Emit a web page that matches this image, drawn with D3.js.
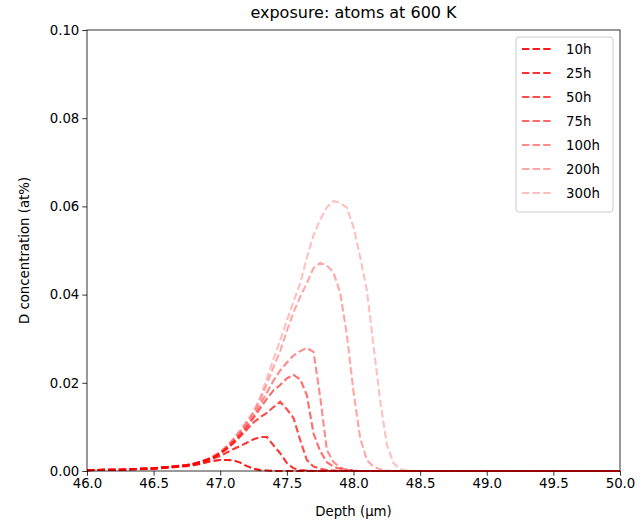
<!DOCTYPE html>
<html>
<head>
<meta charset="utf-8">
<script src="https://cdn.jsdelivr.net/npm/d3@7"></script>
<style>
  body { margin: 0; background: #fff; }
  text { font-family: "DejaVu Sans", sans-serif; fill: #000; }
</style>
</head>
<body>
<div id="chart"></div>
<script>
// depth grid (µm)
var depth = [46.0, 46.25, 46.5, 46.75, 46.8, 46.85, 46.9, 46.95,
             47.0, 47.05, 47.1, 47.15, 47.2, 47.25, 47.3, 47.35,
             47.4, 47.45, 47.5, 47.55, 47.6, 47.65, 47.7, 47.75,
             47.8, 47.85, 47.9, 47.95, 48.0, 48.05, 48.1, 48.15,
             48.2, 48.25, 48.3, 48.35, 48.4, 48.5, 49.0, 50.0];

var labels = ['10h', '25h', '50h', '75h', '100h', '200h', '300h'];
var alphas = [0.9, 0.8, 0.7, 0.58, 0.46, 0.35, 0.25];

var c10h = [0.0002, 0.0003, 0.0005, 0.0011, 0.0013, 0.0016, 0.0020, 0.0023,
            0.0025, 0.0025, 0.0024, 0.0019, 0.0011, 0.0005, 0.0002, 0.0001,
            0, 0, 0, 0, 0, 0, 0, 0,
            0, 0, 0, 0, 0, 0, 0, 0,
            0, 0, 0, 0, 0, 0, 0, 0];
var c25h = [0.0002, 0.0003, 0.0006, 0.0013, 0.0016, 0.0020, 0.0024, 0.0029,
            0.0034, 0.0042, 0.0050, 0.0057, 0.0064, 0.0072, 0.0077, 0.0077,
            0.0058, 0.0040, 0.0018, 0.0006, 0.0002, 0.0001, 0, 0,
            0, 0, 0, 0, 0, 0, 0, 0,
            0, 0, 0, 0, 0, 0, 0, 0];
var c50h = [0.0002, 0.0003, 0.0006, 0.0013, 0.0016, 0.0020, 0.0025, 0.0031,
            0.0039, 0.0050, 0.0063, 0.0078, 0.0094, 0.0110, 0.0122, 0.0132,
            0.0145, 0.0157, 0.0140, 0.0120, 0.0070, 0.0025, 0.0010, 0.0005,
            0.0002, 0.0001, 0, 0, 0, 0, 0, 0,
            0, 0, 0, 0, 0, 0, 0, 0];
var c75h = [0.0002, 0.0003, 0.0006, 0.0013, 0.0016, 0.0020, 0.0025, 0.0031,
            0.0040, 0.0052, 0.0066, 0.0082, 0.0100, 0.0120, 0.0142, 0.0164,
            0.0183, 0.0195, 0.0210, 0.0218, 0.0208, 0.0172, 0.0085, 0.0045,
            0.0020, 0.0010, 0.0005, 0.0002, 0.0001, 0, 0, 0,
            0, 0, 0, 0, 0, 0, 0, 0];
var c100h = [0.0002, 0.0003, 0.0006, 0.0013, 0.0016, 0.0020, 0.0025, 0.0032,
             0.0041, 0.0053, 0.0068, 0.0085, 0.0104, 0.0125, 0.0150, 0.0178,
             0.0205, 0.0228, 0.0246, 0.0262, 0.0272, 0.0279, 0.0270, 0.0168,
             0.0048, 0.0020, 0.0008, 0.0003, 0.0001, 0, 0, 0,
             0, 0, 0, 0, 0, 0, 0, 0];
var c200h = [0.0002, 0.0003, 0.0006, 0.0014, 0.0017, 0.0021, 0.0027, 0.0034,
             0.0043, 0.0056, 0.0072, 0.0090, 0.0110, 0.0132, 0.0160, 0.0198,
             0.0236, 0.0272, 0.0318, 0.0360, 0.0395, 0.0426, 0.0460, 0.0472,
             0.0466, 0.0450, 0.0404, 0.0310, 0.0180, 0.0075, 0.0025, 0.0010,
             0.0004, 0.0001, 0, 0, 0, 0, 0, 0];
var c300h = [0.0002, 0.0003, 0.0006, 0.0014, 0.0017, 0.0021, 0.0027, 0.0034,
             0.0044, 0.0057, 0.0074, 0.0093, 0.0113, 0.0136, 0.0168, 0.0211,
             0.0254, 0.0297, 0.0341, 0.0384, 0.0426, 0.0483, 0.0535, 0.0570,
             0.0598, 0.0612, 0.0608, 0.0597, 0.0553, 0.0485, 0.0410, 0.0285,
             0.0160, 0.0060, 0.0018, 0.0004, 0.0001, 0, 0, 0];

var series = [c10h, c25h, c50h, c75h, c100h, c200h, c300h];

var xTicks = [46.0, 46.5, 47.0, 47.5, 48.0, 48.5, 49.0, 49.5, 50.0];
var yTicks = [0.00, 0.02, 0.04, 0.06, 0.08, 0.10];

var _width = 641, _height = 526,
    _plotLeft = 87, _plotRight = 620, _plotTop = 30, _plotBottom = 471;

var svg = d3.select('#chart').append('svg')
    .attr('width', _width)
    .attr('height', _height);

var x = d3.scaleLinear().domain([46, 50]).range([_plotLeft, _plotRight]);
var y = d3.scaleLinear().domain([0, 0.1]).range([_plotBottom, _plotTop]);

svg.append('defs').append('clipPath').attr('id', 'clip')
    .append('rect')
    .attr('x', _plotLeft).attr('y', _plotTop - 2)
    .attr('width', _plotRight - _plotLeft).attr('height', _plotBottom - _plotTop + 4);

// LINES
var line = d3.line()
    .x(function (d, i) { return x(depth[i]); })
    .y(function (d) { return y(d); });

var gLines = svg.append('g').attr('clip-path', 'url(#clip)');
series.forEach(function (s, k) {
    gLines.append('path')
        .attr('d', line(s))
        .attr('fill', 'none')
        .attr('stroke', 'red')
        .attr('stroke-opacity', alphas[k])
        .attr('stroke-width', 2.1)
        .attr('stroke-dasharray', '7.4,3.2');
});

// AXES
var xAxis = d3.axisBottom(x).tickValues(xTicks).tickSize(4.7).tickPadding(3)
    .tickFormat(d3.format('.1f'));
var yAxis = d3.axisLeft(y).tickValues(yTicks).tickSize(4.7).tickPadding(3)
    .tickFormat(d3.format('.2f'));

var gx = svg.append('g').attr('transform', 'translate(0,' + _plotBottom + ')').call(xAxis);
var gy = svg.append('g').attr('transform', 'translate(' + _plotLeft + ',0)').call(yAxis);
[gx, gy].forEach(function (g) {
    g.select('.domain').remove();
    g.selectAll('text').attr('font-size', '13.3px').attr('font-family', 'DejaVu Sans').attr('fill', '#000');
    g.selectAll('line').attr('stroke', '#000').attr('stroke-width', 0.8);
});

svg.append('rect')
    .attr('x', _plotLeft).attr('y', _plotTop)
    .attr('width', _plotRight - _plotLeft).attr('height', _plotBottom - _plotTop)
    .attr('fill', 'none').attr('stroke', '#000').attr('stroke-width', 0.8);

// LABELS
svg.append('text')
    .attr('x', (_plotLeft + _plotRight) / 2).attr('y', 18)
    .attr('text-anchor', 'middle').attr('font-size', '16px')
    .text('exposure: atoms at 600 K');

svg.append('text')
    .attr('x', (_plotLeft + _plotRight) / 2).attr('y', 516)
    .attr('text-anchor', 'middle').attr('font-size', '13.3px')
    .text('Depth (µm)');

svg.append('text')
    .attr('transform', 'translate(29,' + ((_plotTop + _plotBottom) / 2) + ') rotate(-90)')
    .attr('text-anchor', 'middle').attr('font-size', '13.3px')
    .text('D concentration (at%)');

// LEGEND
var gLegend = svg.append('g').attr('transform', 'translate(516,37)');
gLegend.append('rect')
    .attr('width', 97).attr('height', 175)
    .attr('rx', 3)
    .attr('fill', '#fff').attr('fill-opacity', 0.8)
    .attr('stroke', '#ccc').attr('stroke-width', 1);

labels.forEach(function (lab, k) {
    var yy = 12 + k * 24;
    gLegend.append('line')
        .attr('x1', 6).attr('x2', 35)
        .attr('y1', yy).attr('y2', yy)
        .attr('stroke', 'red')
        .attr('stroke-opacity', alphas[k])
        .attr('stroke-width', 2.1)
        .attr('stroke-dasharray', '7.4,3.2');
    gLegend.append('text')
        .attr('x', 50).attr('y', yy + 5)
        .attr('font-size', '13.3px')
        .text(lab);
});
</script>
</body>
</html>
